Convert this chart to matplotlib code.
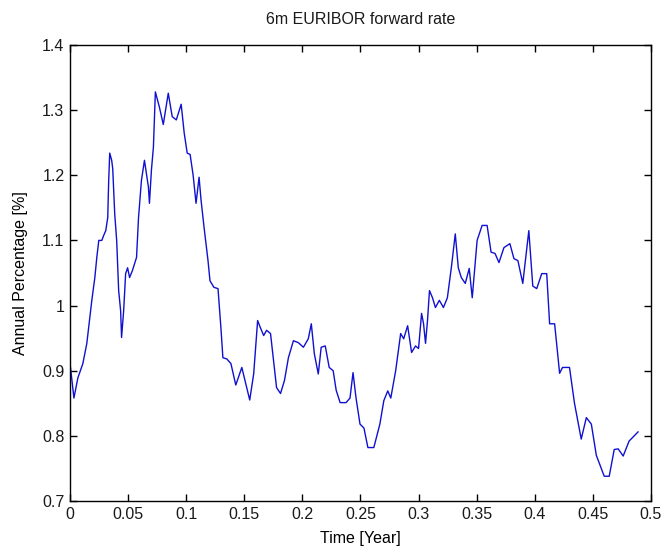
import matplotlib.pyplot as plt

# 6m EURIBOR forward rate path
time = [0.0, 0.0034, 0.0068, 0.0111, 0.0145, 0.0171, 0.0188, 0.0214, 0.0231, 0.0248,
        0.0274, 0.0291, 0.0308, 0.0325, 0.0333, 0.0342, 0.0359, 0.0368, 0.0376, 0.0385,
        0.0402, 0.0410, 0.0419, 0.0436, 0.0444, 0.0462, 0.0479, 0.0496, 0.0513, 0.0538,
        0.0573, 0.0590, 0.0615, 0.0641, 0.0658, 0.0675, 0.0684, 0.0701, 0.0718, 0.0735,
        0.0769, 0.0803, 0.0846, 0.0880, 0.0915, 0.0957, 0.0983, 0.1009, 0.1034, 0.1060,
        0.1085, 0.1111, 0.1128, 0.1154, 0.1171, 0.1188, 0.1205, 0.1239, 0.1274, 0.1299,
        0.1316, 0.1350, 0.1385, 0.1427, 0.1479, 0.1521, 0.1547, 0.1581, 0.1615, 0.1632,
        0.1667, 0.1692, 0.1726, 0.1752, 0.1778, 0.1812, 0.1846, 0.1880, 0.1923, 0.1966,
        0.2009, 0.2051, 0.2077, 0.2103, 0.2137, 0.2162, 0.2197, 0.2231, 0.2265, 0.2291,
        0.2325, 0.2376, 0.2410, 0.2436, 0.2462, 0.2496, 0.2530, 0.2564, 0.2615, 0.2667,
        0.2701, 0.2735, 0.2761, 0.2803, 0.2846, 0.2872, 0.2906, 0.2940, 0.2974, 0.3000,
        0.3026, 0.3043, 0.3060, 0.3077, 0.3094, 0.3120, 0.3145, 0.3179, 0.3214, 0.3248,
        0.3282, 0.3316, 0.3342, 0.3368, 0.3402, 0.3436, 0.3462, 0.3504, 0.3547, 0.3590,
        0.3624, 0.3658, 0.3692, 0.3735, 0.3786, 0.3821, 0.3855, 0.3897, 0.3949, 0.3983,
        0.4017, 0.4060, 0.4103, 0.4128, 0.4171, 0.4214, 0.4239, 0.4299, 0.4342, 0.4400,
        0.4444, 0.4487, 0.4530, 0.4598, 0.4641, 0.4684, 0.4718, 0.4761, 0.4812, 0.4889]

rate = [0.912, 0.858, 0.889, 0.911, 0.942, 0.982, 1.008, 1.043, 1.074, 1.100,
        1.100, 1.108, 1.115, 1.135, 1.190, 1.234, 1.223, 1.210, 1.177, 1.141,
        1.100, 1.065, 1.023, 0.992, 0.951, 0.992, 1.049, 1.058, 1.043, 1.054,
        1.074, 1.135, 1.192, 1.223, 1.203, 1.182, 1.157, 1.208, 1.243, 1.328,
        1.305, 1.278, 1.326, 1.290, 1.285, 1.309, 1.265, 1.234, 1.232, 1.200,
        1.157, 1.197, 1.162, 1.120, 1.095, 1.069, 1.038, 1.028, 1.026, 0.966,
        0.920, 0.918, 0.911, 0.878, 0.905, 0.874, 0.855, 0.895, 0.977, 0.969,
        0.954, 0.962, 0.957, 0.915, 0.874, 0.865, 0.885, 0.920, 0.946, 0.943,
        0.936, 0.949, 0.972, 0.926, 0.895, 0.936, 0.938, 0.905, 0.900, 0.870,
        0.851, 0.851, 0.858, 0.897, 0.858, 0.818, 0.812, 0.782, 0.782, 0.818,
        0.854, 0.869, 0.858, 0.900, 0.957, 0.949, 0.969, 0.928, 0.938, 0.934,
        0.988, 0.972, 0.942, 0.977, 1.023, 1.012, 0.997, 1.008, 0.997, 1.012,
        1.058, 1.110, 1.058, 1.043, 1.034, 1.057, 1.012, 1.100, 1.123, 1.123,
        1.082, 1.080, 1.066, 1.089, 1.095, 1.072, 1.069, 1.034, 1.115, 1.030,
        1.026, 1.049, 1.049, 0.972, 0.972, 0.896, 0.905, 0.905, 0.850, 0.795,
        0.828, 0.818, 0.770, 0.738, 0.738, 0.779, 0.780, 0.769, 0.792, 0.806]

xticks = [0, 0.05, 0.1, 0.15, 0.2, 0.25, 0.3, 0.35, 0.4, 0.45, 0.5]
xticklabels = ['0', '0.05', '0.1', '0.15', '0.2', '0.25', '0.3', '0.35', '0.4', '0.45', '0.5']
yticks = [0.7, 0.8, 0.9, 1.0, 1.1, 1.2, 1.3, 1.4]
yticklabels = ['0.7', '0.8', '0.9', '1', '1.1', '1.2', '1.3', '1.4']

plt.rcParams['font.family'] = ['Liberation Sans', 'DejaVu Sans']
plt.rcParams['text.color'] = '#1a1a1a'

fig = plt.figure(figsize=(6.62, 5.48), dpi=100)
ax = fig.add_axes([0.1057, 0.0858, 0.8776, 0.8321])

ax.plot(time, rate, color='#1010d0', linewidth=1.0)

ax.set_xlim(0, 0.5)
ax.set_ylim(0.7, 1.4)
ax.set_xticks(xticks)
ax.set_xticklabels(xticklabels)
ax.set_yticks(yticks)
ax.set_yticklabels(yticklabels)
ax.tick_params(direction='in', length=5, width=1, top=True, right=True,
               labelsize=11.5, pad=4, labelcolor='#1a1a1a')
for spine in ax.spines.values():
    spine.set_linewidth(1)

ax.set_title('6m EURIBOR forward rate', fontsize=11.5, pad=15)
ax.set_xlabel('Time [Year]', fontsize=11.5, labelpad=7)
ax.set_ylabel('Annual Percentage [%]', fontsize=11.5, labelpad=10)

fig.savefig('out.png', dpi=100)
